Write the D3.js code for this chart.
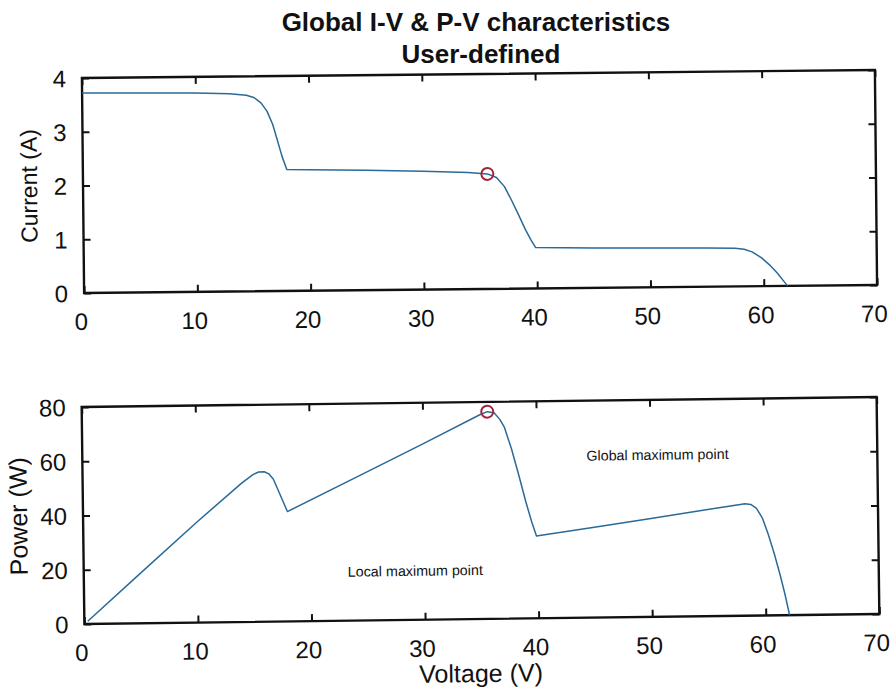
<!DOCTYPE html>
<html>
<head>
<meta charset="utf-8">
<script src="https://cdn.jsdelivr.net/npm/d3@7"></script>
<style>
  body { margin: 0; background: #fff; }
  svg text { font-family: "Liberation Sans", Arial, sans-serif; }
</style>
</head>
<body>
<div id="chart"></div>
<script>
// I-V curve
const ivVoltage = [0, 5, 10, 13, 14.5, 15.2, 15.8, 16.3, 16.8, 17.2, 17.6, 18, 20, 25, 30, 34, 35.7, 36.5, 37.2, 37.8, 38.4, 39, 39.5, 39.9, 45, 50, 55, 57.5, 58.3, 59, 59.8, 60.5, 61.2, 61.8, 62.1]
const ivCurrent = [3.72, 3.71, 3.70, 3.68, 3.65, 3.60, 3.50, 3.35, 3.10, 2.80, 2.50, 2.26, 2.25, 2.23, 2.20, 2.17, 2.14, 2.07, 1.90, 1.65, 1.38, 1.10, 0.90, 0.76, 0.74, 0.73, 0.72, 0.71, 0.69, 0.64, 0.53, 0.40, 0.24, 0.08, 0]

// P-V curve
const pvVoltage = [0.3, 5, 10, 14, 15, 15.5, 16, 16.4, 16.8, 17.2, 17.6, 18, 25, 30, 35, 35.7, 36.3, 36.8, 37.2, 37.8, 38.4, 39, 39.5, 39.9, 45, 50, 55, 58.3, 58.8, 59.3, 59.8, 60.3, 60.8, 61.3, 61.7, 62.1]
const pvPower = [1, 18.5, 37, 51.2, 54.3, 55.2, 55.3, 54.5, 52.5, 48.5, 44.5, 40.5, 54.7, 64.8, 75.2, 76.4, 76, 73.5, 70.5, 62.5, 53, 43, 35.5, 30.3, 33.3, 36.3, 39.3, 41.3, 41, 39.5, 36, 30, 23, 15, 8, 0]

// maximum power points
const mppIV = { v: 35.7, i: 2.14 }
const mppPV = { v: 35.7, p: 76.4 }

const xTicks = [0, 10, 20, 30, 40, 50, 60, 70]
const iTicks = [0, 1, 2, 3, 4]
const pTicks = [0, 20, 40, 60, 80]

const lineColor = '#2a6a99'
const markColor = '#a3233c'

const svg = d3.select('#chart').append('svg')
    .attr('width', 891)
    .attr('height', 693)

function panel(opts) {
    const x = d3.scaleLinear().domain([0, 70]).range([opts.left, opts.right])
    const y = d3.scaleLinear().domain(opts.domain).range([opts.bottom, opts.top])
    const cx = (opts.left + opts.right) / 2
    const cy = (opts.top + opts.bottom) / 2
    // the scanned figure is slightly tilted
    const g = svg.append('g').attr('transform', `rotate(${opts.tilt},${cx},${cy})`)

    // inner ticks on all four sides, MATLAB style
    g.append('g').attr('transform', `translate(0,${opts.bottom})`)
        .call(d3.axisTop(x).tickValues(xTicks).tickSize(7).tickFormat(''))
    g.append('g').attr('transform', `translate(0,${opts.top})`)
        .call(d3.axisBottom(x).tickValues(xTicks).tickSize(7).tickFormat(''))
    g.append('g').attr('transform', `translate(${opts.left},0)`)
        .call(d3.axisRight(y).tickValues(opts.ticks).tickSize(7).tickFormat(''))
    g.append('g').attr('transform', `translate(${opts.right},0)`)
        .call(d3.axisLeft(y).tickValues(opts.ticks).tickSize(7).tickFormat(''))
    g.selectAll('.domain').remove()
    g.selectAll('.tick line').attr('stroke', '#111').attr('stroke-width', 2)

    g.append('rect')
        .attr('x', opts.left).attr('y', opts.top)
        .attr('width', opts.right - opts.left).attr('height', opts.bottom - opts.top)
        .attr('fill', 'none').attr('stroke', '#111').attr('stroke-width', 2.4)

    // tick labels
    g.selectAll('.xl').data(xTicks).enter().append('text')
        .attr('x', d => x(d) - 3)
        .attr('y', opts.bottom + 37)
        .attr('text-anchor', 'middle')
        .attr('font-size', 24)
        .attr('fill', '#111')
        .text(d => d)
    g.selectAll('.yl').data(opts.ticks).enter().append('text')
        .attr('x', opts.left - 16)
        .attr('y', d => y(d) + 9)
        .attr('text-anchor', 'end')
        .attr('font-size', 24)
        .attr('fill', '#111')
        .text(d => d)

    g.append('text')
        .attr('transform', `translate(${opts.labelX},${cy}) rotate(-90)`)
        .attr('text-anchor', 'middle')
        .attr('font-size', opts.labelSize)
        .attr('fill', '#111')
        .text(opts.label)

    return { g, x, y }
}

const ivPanel = panel({ left: 83, right: 876, top: 74, bottom: 289, tilt: -0.58, domain: [0, 4], ticks: iTicks, label: 'Current (A)', labelX: 37, labelSize: 23 })
const pvPanel = panel({ left: 83, right: 878, top: 402, bottom: 619, tilt: -0.72, domain: [0, 80], ticks: pTicks, label: 'Power (W)', labelX: 27, labelSize: 25 })

const ivData = ivVoltage.map((v, i) => ({ v, val: ivCurrent[i] }))
const pvData = pvVoltage.map((v, i) => ({ v, val: pvPower[i] }))

ivPanel.g.append('path')
    .datum(ivData)
    .attr('fill', 'none')
    .attr('stroke', lineColor)
    .attr('stroke-width', 1.5)
    .attr('stroke-linejoin', 'round')
    .attr('d', d3.line().x(d => ivPanel.x(d.v)).y(d => ivPanel.y(d.val)))

pvPanel.g.append('path')
    .datum(pvData)
    .attr('fill', 'none')
    .attr('stroke', lineColor)
    .attr('stroke-width', 1.5)
    .attr('stroke-linejoin', 'round')
    .attr('d', d3.line().x(d => pvPanel.x(d.v)).y(d => pvPanel.y(d.val)))

ivPanel.g.append('circle')
    .attr('cx', ivPanel.x(mppIV.v)).attr('cy', ivPanel.y(mppIV.i))
    .attr('r', 6).attr('fill', 'none').attr('stroke', markColor).attr('stroke-width', 2)
pvPanel.g.append('circle')
    .attr('cx', pvPanel.x(mppPV.v)).attr('cy', pvPanel.y(mppPV.p))
    .attr('r', 6).attr('fill', 'none').attr('stroke', markColor).attr('stroke-width', 2)

pvPanel.g.append('text')
    .attr('x', 587).attr('y', 462)
    .attr('font-size', 14.3).attr('fill', '#111')
    .text('Global maximum point')
pvPanel.g.append('text')
    .attr('x', 347).attr('y', 575)
    .attr('font-size', 14.3).attr('fill', '#111')
    .text('Local maximum point')

pvPanel.g.append('text')
    .attr('x', 479).attr('y', 682)
    .attr('text-anchor', 'middle')
    .attr('font-size', 25).attr('fill', '#111')
    .text('Voltage (V)')

svg.append('text')
    .attr('x', 476).attr('y', 31)
    .attr('text-anchor', 'middle')
    .attr('font-size', 26).attr('font-weight', 'bold').attr('fill', '#111')
    .text('Global I-V & P-V characteristics')
svg.append('text')
    .attr('x', 481).attr('y', 63)
    .attr('text-anchor', 'middle')
    .attr('font-size', 26).attr('font-weight', 'bold').attr('fill', '#111')
    .text('User-defined')
</script>
</body>
</html>
